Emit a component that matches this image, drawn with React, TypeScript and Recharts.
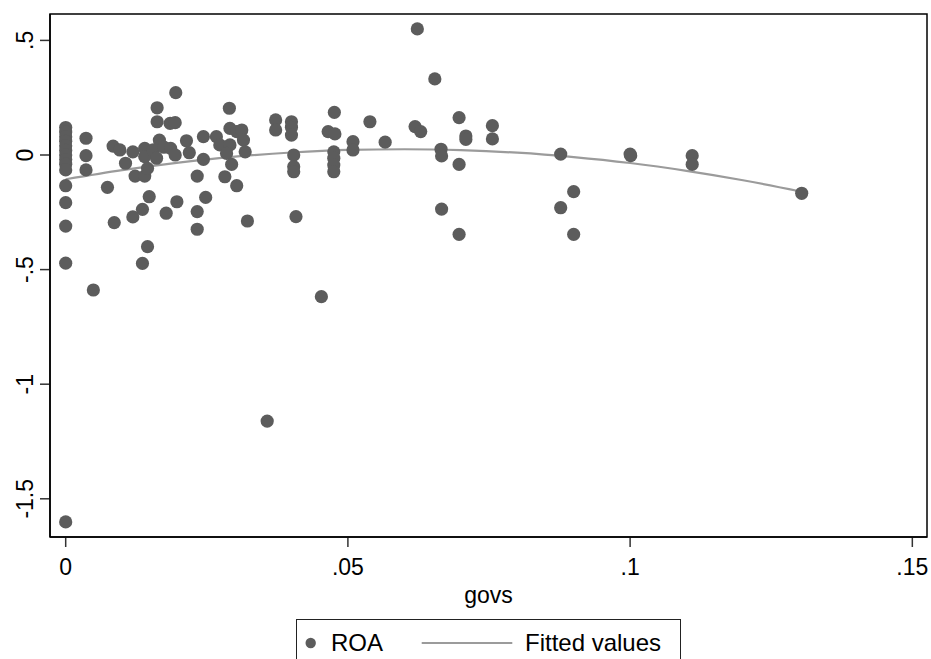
import React from 'react';
import { ComposedChart, Scatter, Line, XAxis, YAxis } from 'recharts';

const govs = [
  0, 0, 0, 0, 0, 0, 0, 0, 0, 0, 0, 0, 0, 0, 0,
  0.0036, 0.0036, 0.0036, 0.0049, 0.0074, 0.0086, 0.0084, 0.0096, 0.0106, 0.0119, 0.0119,
  0.0123, 0.014, 0.0136, 0.0136, 0.014, 0.014, 0.0145, 0.0148, 0.0145, 0.0155,
  0.0162, 0.0162, 0.0166, 0.0161, 0.0174, 0.0178, 0.0185, 0.0194, 0.0195, 0.0186, 0.0194, 0.0197,
  0.0214, 0.0219, 0.0233, 0.0233, 0.0233, 0.0244, 0.0244, 0.0248,
  0.0267, 0.0273, 0.029, 0.0291, 0.0303, 0.0312, 0.0315, 0.0291, 0.0285, 0.0318, 0.0294, 0.0282, 0.0303, 0.0322,
  0.0357, 0.0372, 0.0372, 0.04, 0.04, 0.04, 0.0404, 0.0404, 0.0404, 0.0408, 0.0453,
  0.0476, 0.0465, 0.0477, 0.0475, 0.0475, 0.0475, 0.0475, 0.0509, 0.0509, 0.0539, 0.0566,
  0.0623, 0.0654, 0.0619, 0.0629, 0.0697, 0.0709, 0.0709, 0.0756, 0.0756, 0.0665, 0.0666, 0.0697, 0.0666, 0.0697,
  0.0877, 0.09, 0.0877, 0.09, 0.1001, 0.1, 0.111, 0.111, 0.1304,
];

const roa = [
  0.12, 0.10, 0.08, 0.06, 0.04, 0.02, 0.0, -0.02, -0.04, -0.065, -0.134, -0.208, -0.31, -0.472, -1.601,
  0.073, -0.003, -0.065, -0.589, -0.141, -0.295, 0.039, 0.022, -0.036, 0.014, -0.27,
  -0.092, -0.092, -0.237, -0.473, 0.029, -0.007, -0.058, -0.182, -0.40, 0.022,
  0.206, 0.145, 0.065, -0.014, 0.034, -0.254, 0.138, 0.141, 0.272, 0.029, 0.0, -0.204,
  0.062, 0.01, -0.092, -0.247, -0.324, 0.08, -0.019, -0.185,
  0.08, 0.044, 0.204, 0.116, 0.102, 0.109, 0.065, 0.044, 0.007, 0.014, -0.041, -0.095, -0.134, -0.288,
  -1.161, 0.153, 0.109, 0.145, 0.121, 0.087, 0.0, -0.051, -0.073, -0.269, -0.618,
  0.186, 0.102, 0.092, 0.014, -0.014, -0.044, -0.073, 0.058, 0.022, 0.145, 0.056,
  0.55, 0.332, 0.124, 0.102, 0.163, 0.083, 0.068, 0.128, 0.07, 0.025, -0.004, -0.041, -0.236, -0.346,
  0.004, -0.16, -0.23, -0.346, -0.003, 0.004, -0.003, -0.041, -0.167,
];

const fitX = [0, 0.01, 0.02, 0.03, 0.04, 0.05, 0.06, 0.07, 0.08, 0.09, 0.1, 0.11, 0.12, 0.13, 0.1304];
const fitY = [-0.106, -0.066, -0.033, -0.007, 0.011, 0.022, 0.025, 0.021, 0.010, -0.009, -0.035, -0.069, -0.110, -0.158, -0.160];

const xTicks = [0, 0.05, 0.1, 0.15];
const xTickLabels = ['0', '.05', '.1', '.15'];
const yTicks = [-1.5, -1, -0.5, 0, 0.5];
const yTickLabels = ['-1.5', '-1', '-.5', '0', '.5'];

const scatterData = govs.map((x, i) => ({ x, y: roa[i] }));
const fitData = fitX.map((x, i) => ({ x, y: fitY[i] }));

const FONT = 'Liberation Sans, Arial, Helvetica, sans-serif';
const MARKER = '#5c5c5c';
const FITCOLOR = '#9b9b9b';

const XDOMAIN: [number, number] = [-0.00278, 0.1526];
const YDOMAIN: [number, number] = [-1.6667, 0.6152];

const XTick = (props: any) => {
  const { x, payload } = props;
  const idx = xTicks.indexOf(payload.value);
  return (
    <text x={x} y={575} textAnchor="middle" fontSize={23} fontFamily={FONT} fill="#000">
      {idx >= 0 ? xTickLabels[idx] : payload.value}
    </text>
  );
};

const YTick = (props: any) => {
  const { y, payload } = props;
  const idx = yTicks.indexOf(payload.value);
  const bx = 33;
  return (
    <text
      x={bx}
      y={y}
      transform={`rotate(-90, ${bx}, ${y})`}
      textAnchor="middle"
      fontSize={23}
      fontFamily={FONT}
      fill="#000"
    >
      {idx >= 0 ? yTickLabels[idx] : payload.value}
    </text>
  );
};

const Dot = (props: any) => {
  const { cx, cy } = props;
  if (cx == null || cy == null) return null;
  return <circle cx={cx} cy={cy} r={6.6} fill={MARKER} />;
};

const XLabel = () => (
  <text x={488.5} y={603} textAnchor="middle" fontSize={23} fontFamily={FONT} fill="#000">
    govs
  </text>
);

export default function App() {
  return (
    <div style={{ position: 'absolute', left: 0, top: 0, width: 931, height: 659, background: '#fff', overflow: 'hidden' }}>
      <ComposedChart
        width={931}
        height={659}
        margin={{ top: 14, right: 4, bottom: 92, left: 0 }}
        style={{ background: '#fff' }}
      >
        <XAxis
          type="number"
          dataKey="x"
          domain={XDOMAIN}
          ticks={xTicks}
          allowDataOverflow
          height={30}
          tickSize={10}
          tickLine={{ stroke: '#333', strokeWidth: 1.5 }}
          axisLine={{ stroke: '#000', strokeWidth: 1.5 }}
          tick={<XTick />}
          label={<XLabel />}
        />
        <YAxis
          type="number"
          dataKey="y"
          domain={YDOMAIN}
          ticks={yTicks}
          allowDataOverflow
          width={50}
          tickSize={10}
          tickLine={{ stroke: '#333', strokeWidth: 1.5 }}
          axisLine={{ stroke: '#000', strokeWidth: 1.5 }}
          tick={<YTick />}
        />
        <Scatter data={scatterData} dataKey="y" shape={<Dot />} isAnimationActive={false} />
        <Line
          data={fitData}
          dataKey="y"
          type="monotone"
          dot={false}
          activeDot={false}
          stroke={FITCOLOR}
          strokeWidth={2.2}
          isAnimationActive={false}
        />
      </ComposedChart>
      <svg
        width={931}
        height={659}
        style={{ position: 'absolute', left: 0, top: 0, pointerEvents: 'none' }}
      >
        <rect x={50} y={14} width={877} height={523} fill="none" stroke="#000" strokeWidth={1.5} />
        <rect x={296.5} y={619.5} width={384} height={60} fill="#fff" stroke="#222" strokeWidth={1} />
        <circle cx={310.7} cy={643} r={5.2} fill={MARKER} />
        <text x={331} y={651} fontSize={24} fontFamily={FONT} fill="#000">ROA</text>
        <line x1={421.7} y1={643} x2={512.3} y2={643} stroke={FITCOLOR} strokeWidth={2.2} />
        <text x={525} y={651} fontSize={24} fontFamily={FONT} fill="#000">Fitted values</text>
      </svg>
    </div>
  );
}
